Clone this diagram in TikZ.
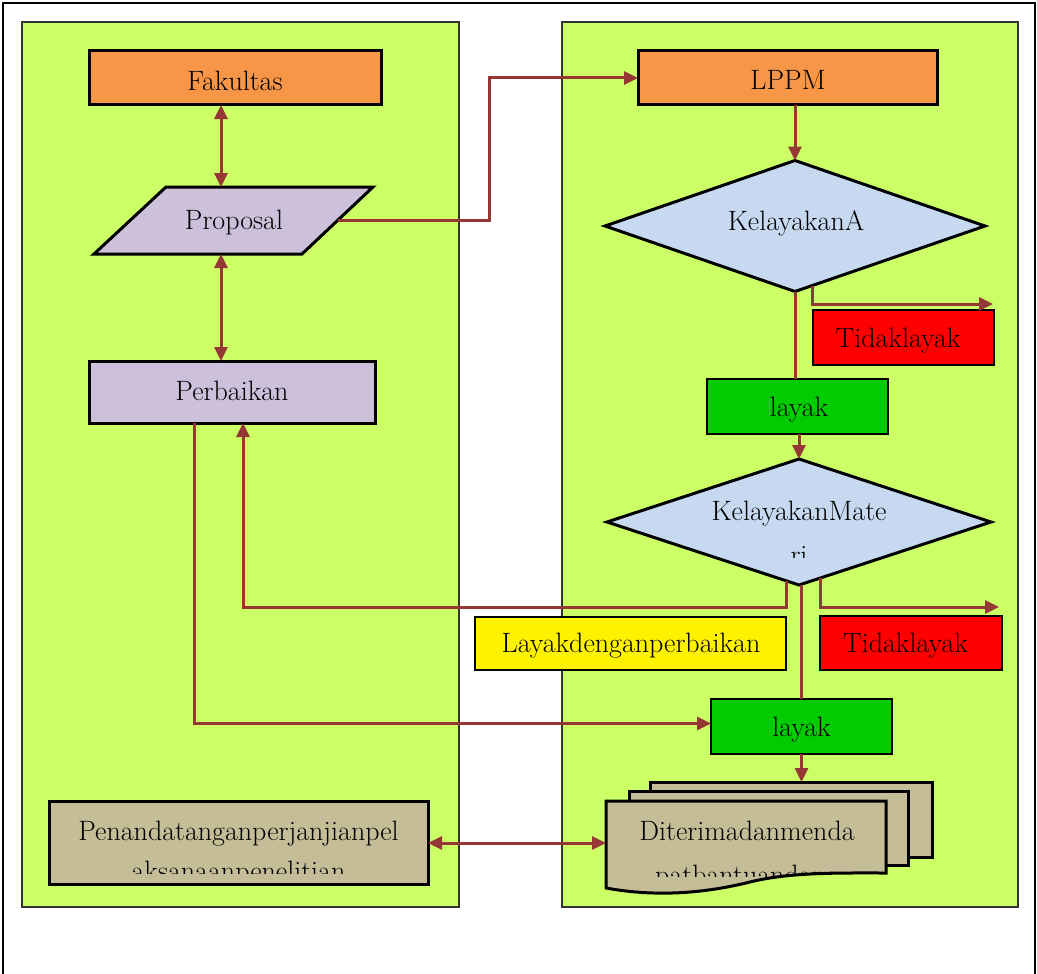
\documentclass[tikz,border=0pt]{standalone}
\usepackage{fontspec}
\setmainfont{Latin Modern Roman}
\usetikzlibrary{shapes.geometric,arrows.meta,calc}
\definecolor{panelg}{HTML}{CCFF66}
\definecolor{orng}{HTML}{F79646}
\definecolor{lilac}{HTML}{CCC0DA}
\definecolor{khaki}{HTML}{C4BD97}
\definecolor{dblue}{HTML}{C6D9F1}
\definecolor{arrred}{HTML}{953735}
\definecolor{grn}{HTML}{00CC00}
\begin{document}
\begin{tikzpicture}[x=1pt,y=-1pt,
  panel/.style={draw=black!80,line width=1.2pt,fill=panelg},
  thickbox/.style={draw=black,line width=3pt,inner sep=0pt,outer sep=0pt},
  thinbox/.style={draw=black,line width=1.3pt,inner sep=0pt,outer sep=0pt},
  shapeline/.style={draw=black,line width=3pt},
  hidden/.style={inner sep=0pt,outer sep=0pt},
  txt/.style={anchor=base,inner sep=0pt,font=\fontsize{28}{32}\selectfont},
  arr/.style={draw=arrred,line width=3pt},
  arrfwd/.style={-{Triangle[length=14pt,width=13pt]}},
  arrboth/.style={{Triangle[length=14pt,width=13pt]}-{Triangle[length=14pt,width=13pt]}}
]
\useasboundingbox (0,0) rectangle (1037,974);
\draw[line width=1.5pt] (3,974) -- (3,3) -- (1035,3) -- (1035,974);

% panels
\draw[panel] (22,22) rectangle (459,907);
\draw[panel] (562,22) rectangle (1018,907);

% left column
\node[thickbox,fill=orng,minimum width=292,minimum height=54] (fak) at (235,78) {};
\node[txt] (fakT) at (235,91) {Fakultas};

\draw[shapeline,fill=lilac] (166,187) -- (373,187) -- (302,254) -- (94,254) -- cycle;
\node[hidden,minimum width=279,minimum height=67] (prop) at (233.5,220.5) {};
\coordinate (propR) at (337.5,220.5);
\node[txt] (propT) at (234,229) {Proposal};

\node[thickbox,fill=lilac,minimum width=286,minimum height=62] (perb) at (232,392) {};
\node[txt] (perbT) at (232,400) {Perbaikan};

\node[thickbox,fill=khaki,minimum width=379,minimum height=83] (pen) at (238.5,843) {};
\begin{scope}
  \clip (50.5,802.5) rectangle (426.5,873);
  \node[txt] (penT1) at (238.5,840) {Penandatanganperjanjianpel};
  \node[txt] (penT2) at (238.5,880) {aksanaanpenelitian};
\end{scope}

% right column
\node[thickbox,fill=orng,minimum width=299,minimum height=54] (lppm) at (787.5,78) {};
\node[txt] (lppmT) at (788,89) {LPPM};

\node[diamond,thickbox,fill=dblue,minimum width=380,minimum height=131] (dA) at (795,226) {};
\node[txt] (dAT) at (796,230) {KelayakanA};

\node[thinbox,fill=red,minimum width=181,minimum height=55] (t1) at (903.5,337.5) {};
\node[txt] (t1T) at (898,347) {Tidaklayak};

\node[thinbox,fill=grn,minimum width=181,minimum height=55] (l1) at (797.5,406.5) {};
\node[txt] (l1T) at (799,416) {layak};

\node[diamond,thickbox,fill=dblue,minimum width=384,minimum height=126] (dM) at (799,522) {};
\begin{scope}
  \clip (640,480) rectangle (960,557);
  \node[txt] (dMT1) at (799,520) {KelayakanMate};
  \node[txt] (dMT2) at (799,564) {ri};
\end{scope}

\node[thinbox,fill=yellow,minimum width=311,minimum height=53] (lp) at (630.5,643.5) {};
\node[txt] (lpT) at (631,652) {Layakdenganperbaikan};

\node[thinbox,fill=red,minimum width=182,minimum height=54] (t2) at (911,643) {};
\node[txt] (t2T) at (905.5,652) {Tidaklayak};

\node[thinbox,fill=grn,minimum width=181,minimum height=55] (l2) at (801.5,726.5) {};
\node[txt] (l2T) at (801.5,736) {layak};

% document stack
\draw[shapeline,fill=khaki] (650,782) rectangle (932,857);
\draw[shapeline,fill=khaki] (629,791) rectangle (908,865);
\fill[khaki] (606,801) -- (886,801) -- (886,873) .. controls (840,873) and (790,872) .. (750,882) .. controls (710,892) and (660,898) .. (606,888) -- cycle;
\node[hidden,minimum width=282,minimum height=75] (docback) at (791,819.5) {};
\node[hidden,minimum width=280,minimum height=87] (doc) at (746,844.5) {};
\begin{scope}
  \clip (606,801) -- (886,801) -- (886,873) .. controls (840,873) and (790,872) .. (750,882) .. controls (710,892) and (660,898) .. (606,888) -- cycle;
  \clip (606,801) rectangle (886,876);
  \node[txt] (docT1) at (747,840) {Diterimadanmenda};
  \node[txt] (docT2) at (747,884) {patbantuandana};
\end{scope}
\draw[shapeline] (606,801) -- (886,801) -- (886,873) .. controls (840,873) and (790,872) .. (750,882) .. controls (710,892) and (660,898) .. (606,888) -- cycle;

% connectors
\draw[arr,arrboth] ([xshift=-14]fak.south) -- ([xshift=-14]fak.south |- prop.north);
\draw[arr,arrboth] ([xshift=-11]perb.north |- prop.south) -- ([xshift=-11]perb.north);
\draw[arr,arrfwd] (propR) -- ++(151.5,0) |- (lppm.west);
\draw[arr,arrfwd] (dA.north |- lppm.south) -- (dA.north);
\draw[arr] (dA.south) -- (dA.south |- l1.north);
\draw[arr,arrfwd] ($(dA.south)+(17,-6)$) |- ([xshift=-1,yshift=6]t1.north east);
\draw[arr,arrfwd] (dM.north |- l1.south) -- (dM.north);
\draw[arr,arrfwd] ($(dM.south)+(-13,-4)$) -- ++(0,26) -| ([xshift=11]perb.south);
\draw[arr,arrfwd] ($(dM.south)+(21,-7)$) |- ([xshift=-3,yshift=9]t2.north east);
\draw[arr] (l2.north |- dM.south) -- (l2.north);
\draw[arr,arrfwd] ([xshift=-38]perb.south) |- ([yshift=3]l2.west);
\draw[arr,arrfwd] (l2.south) -- (l2.south |- docback.north);
\draw[arr,arrboth] (pen.east) -- (pen.east -| doc.west);
\end{tikzpicture}
\end{document}
